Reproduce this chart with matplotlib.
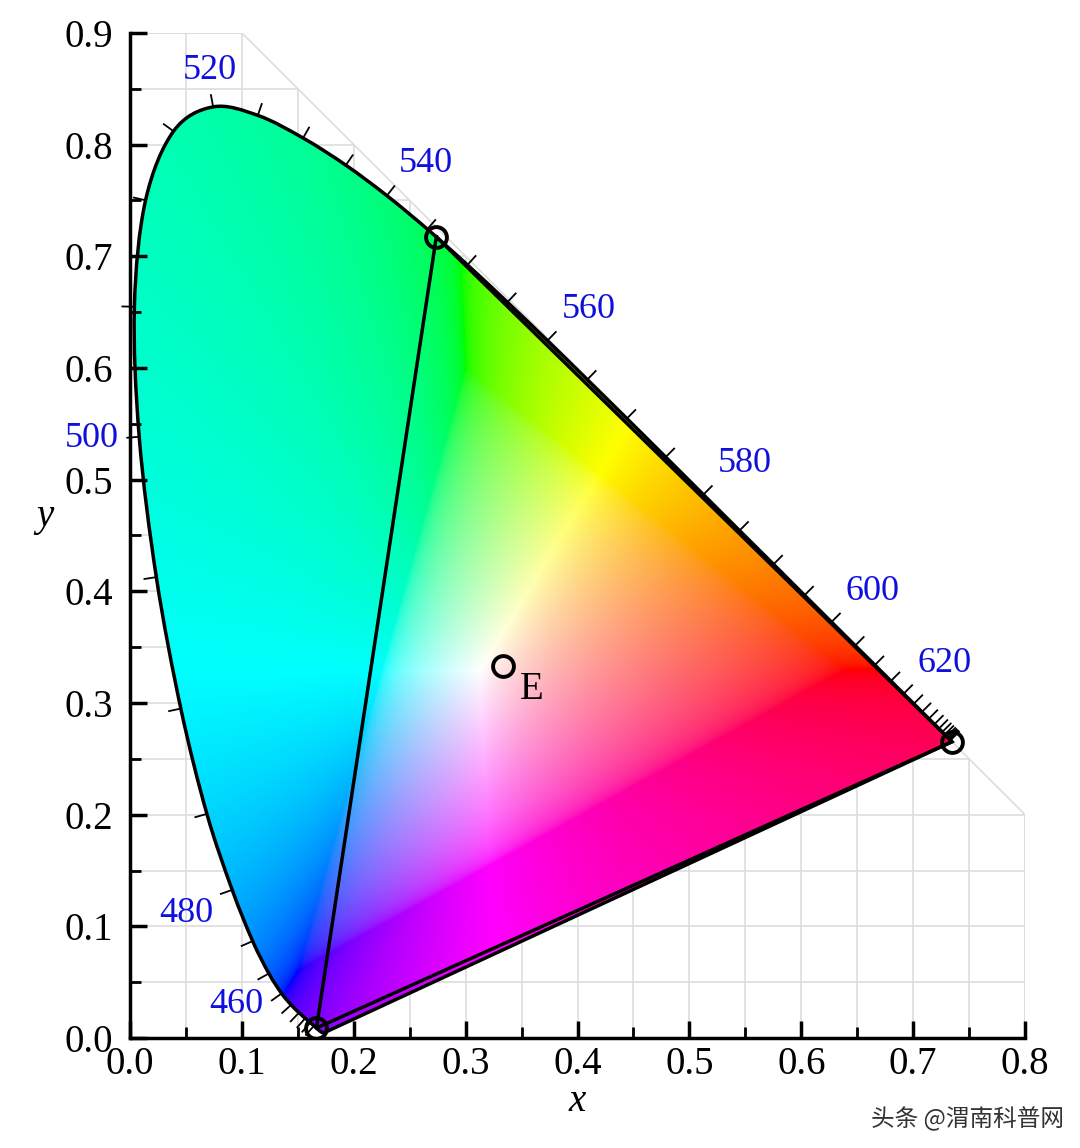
import numpy as np
import matplotlib
matplotlib.use("Agg")
import matplotlib.pyplot as plt
from matplotlib.path import Path
from matplotlib.patches import PathPatch, Polygon

# CIE 1931 spectral locus (wavelength nm, x, y)
wavelengths = [380,385,390,395,400,405,410,415,420,425,430,435,440,445,450,455,460,465,470,475,
               480,485,490,495,500,505,510,515,520,525,530,535,540,545,550,555,560,565,570,575,
               580,585,590,595,600,605,610,615,620,625,630,635,640,645,650,655,660,665,670,675,
               680,685,690,695,700]
locus_x = [0.1741,0.1740,0.1738,0.1736,0.1733,0.1730,0.1726,0.1721,0.1714,0.1703,0.1689,0.1669,0.1644,0.1611,0.1566,0.1510,0.1440,0.1355,0.1241,0.1096,
           0.0913,0.0687,0.0454,0.0235,0.0082,0.0039,0.0139,0.0389,0.0743,0.1142,0.1547,0.1929,0.2296,0.2658,0.3016,0.3373,0.3731,0.4087,0.4441,0.4788,
           0.5125,0.5448,0.5752,0.6029,0.6270,0.6482,0.6658,0.6801,0.6915,0.7006,0.7079,0.7140,0.7190,0.7230,0.7260,0.7283,0.7300,0.7311,0.7320,0.7327,
           0.7334,0.7340,0.7344,0.7346,0.7347]
locus_y = [0.0050,0.0050,0.0049,0.0049,0.0048,0.0048,0.0048,0.0048,0.0051,0.0058,0.0069,0.0086,0.0109,0.0138,0.0177,0.0227,0.0297,0.0399,0.0578,0.0868,
           0.1327,0.2007,0.2950,0.4127,0.5384,0.6548,0.7502,0.8120,0.8338,0.8262,0.8059,0.7816,0.7543,0.7243,0.6923,0.6589,0.6245,0.5896,0.5547,0.5202,
           0.4866,0.4544,0.4242,0.3965,0.3725,0.3514,0.3340,0.3197,0.3083,0.2993,0.2920,0.2859,0.2809,0.2770,0.2740,0.2717,0.2700,0.2689,0.2680,0.2673,
           0.2666,0.2660,0.2656,0.2654,0.2653]
label_wavelengths = [460, 480, 500, 520, 540, 560, 580, 600, 620]
primary_x = [0.2738, 0.7347, 0.1666]
primary_y = [0.7174, 0.2653, 0.0089]
white_x, white_y = [1/3], [1/3]
xticks = [0.0,0.1,0.2,0.3,0.4,0.5,0.6,0.7,0.8]
yticks = [0.0,0.1,0.2,0.3,0.4,0.5,0.6,0.7,0.8,0.9]

serif = ['Liberation Serif', 'DejaVu Serif']
fig = plt.figure(figsize=(10.8, 11.48), dpi=100)
ax = fig.add_axes([0.1204, 0.0958, 0.8287, 0.8755])
ax.set_xlim(0, 0.8); ax.set_ylim(0, 0.9)

def smooth_path(px, py):
    pts = np.column_stack([px, py])
    n = len(pts)
    verts = [tuple(pts[0])]; codes = [Path.MOVETO]
    for i in range(n - 1):
        p0 = pts[i-1] if i > 0 else pts[i]
        p1, p2 = pts[i], pts[i+1]
        p3 = pts[i+2] if i + 2 < n else pts[i+1]
        c1 = p1 + (p2 - p0) / 6.0
        c2 = p2 - (p3 - p1) / 6.0
        verts += [tuple(c1), tuple(c2), tuple(p2)]
        codes += [Path.CURVE4] * 3
    # straight purple line back to start
    verts += [tuple(pts[0])]; codes += [Path.LINETO]
    return Path(verts, codes)

# grid clipped to x+y<=1
gc = '#dddddd'
gpoly = Polygon([(0,0),(0,0.9),(0.1,0.9),(0.8,0.2),(0.8,0)], closed=True, transform=ax.transData, fill=False, lw=0)
ax.add_patch(gpoly)
for g in np.arange(0.05, 0.8001, 0.05):
    l, = ax.plot([g,g],[0,0.9], color=gc, lw=1.2, zorder=0); l.set_clip_path(gpoly)
for g in np.arange(0.05, 0.9001, 0.05):
    l, = ax.plot([0,0.8],[g,g], color=gc, lw=1.2, zorder=0); l.set_clip_path(gpoly)
ax.plot([0.1,0.8],[0.9,0.2], color=gc, lw=1.2, zorder=0)
ax.plot([0.8,0.8],[0,0.2], color=gc, lw=1.2, zorder=0)
ax.plot([0,0.1],[0.9,0.9], color=gc, lw=1.2, zorder=0)

# color fill
N = 700
xs = np.linspace(0, 0.8, N); ys = np.linspace(0.001, 0.9, N)
X, Y = np.meshgrid(xs, ys)
Xc = X / Y; Yc = np.ones_like(X); Zc = (1 - X - Y) / Y
M = np.array([[3.2406,-1.5372,-0.4986],[-0.9689,1.8758,0.0415],[0.0557,-0.2040,1.0570]])
rgb = np.einsum('ij,jxy->xyi', M, np.stack([Xc, Yc, Zc]))
mn = rgb.min(axis=2, keepdims=True)
rgb = rgb - np.minimum(mn, 0)
rgb = rgb / np.maximum(rgb.max(axis=2, keepdims=True), 1e-9)
rgb = np.where(rgb <= 0.0031308, 12.92*rgb, 1.055*np.power(np.clip(rgb, 0, 1), 1/2.4) - 0.055)
rgb = np.clip(rgb, 0, 1)
im = ax.imshow(rgb, origin='lower', extent=[0,0.8,0.001,0.9], aspect='auto', interpolation='bilinear', zorder=1)
lpath = smooth_path(locus_x, locus_y)
clip = PathPatch(lpath, transform=ax.transData, fc='none', ec='none')
ax.add_patch(clip); im.set_clip_path(clip)
ax.add_patch(PathPatch(lpath, fc='none', ec='black', lw=2.5, zorder=3))

# triangle
ax.plot(primary_x + [primary_x[0]], primary_y + [primary_y[0]], color='black', lw=2.5, zorder=4)
ax.plot(primary_x, primary_y, 'o', ms=15, mfc='none', mec='black', mew=2.8, zorder=5)
ax.plot(white_x, white_y, 'o', ms=15, mfc='none', mec='black', mew=2.8, zorder=5)
ax.text(white_x[0]+0.015, white_y[0]-0.005, 'E', fontsize=28, family=serif, va='top', ha='left', zorder=6)

# wavelength ticks
fig.canvas.draw()
T = ax.transData
inv = T.inverted()
P = T.transform(np.column_stack([locus_x, locus_y]))
cen = T.transform((0.33, 0.33))
for i, w in enumerate(wavelengths):
    if w < 440 or w > 680: continue
    t = P[min(i+1, len(P)-1)] - P[max(i-1, 0)]
    n = np.array([-t[1], t[0]]); n /= np.hypot(*n)
    if np.dot(n, P[i]-cen) < 0: n = -n
    pa, pb = inv.transform(P[i]), inv.transform(P[i] + n*12)
    ax.plot([pa[0], pb[0]], [pa[1], pb[1]], color='black', lw=1.3, zorder=3, clip_on=False)
    if w in label_wavelengths:
        pc = inv.transform(P[i] + n*20)
        ha = 'left' if n[0] > 0.3 else ('right' if n[0] < -0.3 else 'center')
        va = 'bottom' if n[1] > 0.3 else ('top' if n[1] < -0.3 else 'center')
        if w == 460:
            pc = inv.transform(P[i] + np.array([-28, 0])); ha, va = 'right', 'center'
        ax.text(pc[0], pc[1], str(w), color='#1010dd', fontsize=26, family=serif, ha=ha, va=va, zorder=6)

for s in ['top', 'right']: ax.spines[s].set_visible(False)
for s in ['left', 'bottom']: ax.spines[s].set_linewidth(2.5)
ax.set_xticks(xticks); ax.set_yticks(yticks)
ax.set_xticks(np.arange(0.05, 0.8, 0.1), minor=True)
ax.set_yticks(np.arange(0.05, 0.9, 0.1), minor=True)
ax.set_xticklabels([f'{v:.1f}' for v in xticks], fontsize=28, family='Liberation Serif')
ax.set_yticklabels([f'{v:.1f}' for v in yticks], fontsize=28, family='Liberation Serif')
ax.tick_params(which='major', direction='in', length=12, width=2.5)
ax.tick_params(axis='x', pad=6)
ax.tick_params(axis='y', pad=12)
ax.tick_params(which='minor', direction='in', length=8, width=2)
ax.set_xlabel('x', fontsize=28, family='Liberation Serif', style='italic', labelpad=0)
ax.set_ylabel('y', fontsize=28, family='Liberation Serif', style='italic', rotation=0, labelpad=14)
fig.text(0.985, 0.015, '头条 @渭南科普网', fontsize=17, color='#333333', ha='right', va='bottom',
         family=['Noto Sans CJK SC', 'DejaVu Sans'])
fig.savefig('out.png', dpi=100)
